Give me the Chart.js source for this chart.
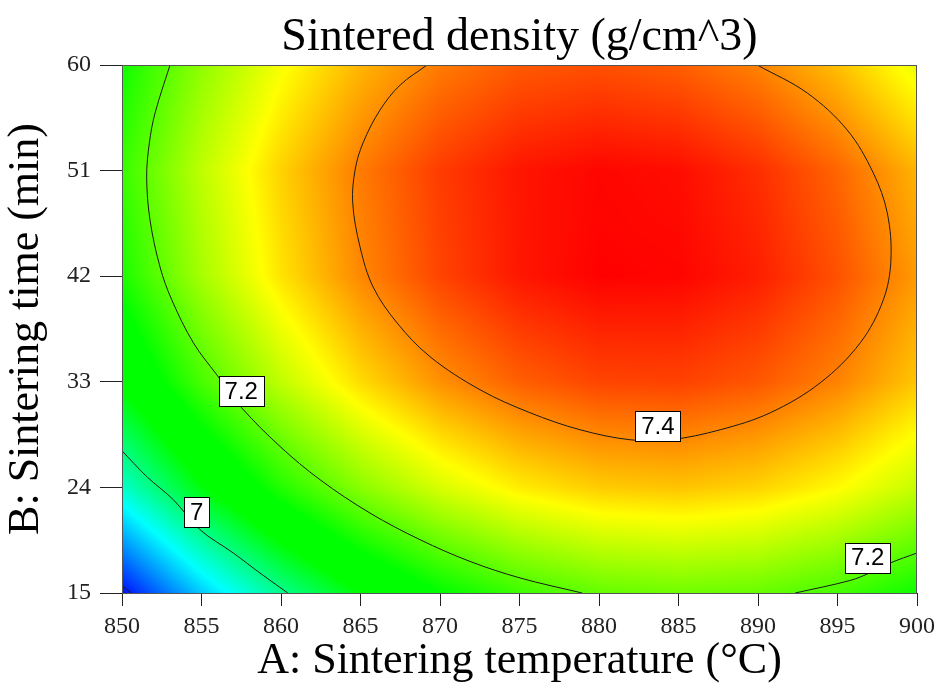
<!DOCTYPE html>
<html>
<head>
<meta charset="utf-8">
<script src="https://cdn.jsdelivr.net/npm/chart.js@4.4.1/dist/chart.umd.min.js"></script>
<style>
  html,body{margin:0;padding:0;background:#fff;}
  #wrap{width:937px;height:692px;}
</style>
</head>
<body>
<div id="wrap"><canvas id="chart" width="937" height="692"></canvas></div>
<script>
// grid of the response surface: temperature (°C) columns, time (min) rows
const temps = [850, 855, 860, 865, 870, 875, 880, 885, 890, 895, 900];
const times = [15, 24, 33, 42, 51, 60];

// sintered density (g/cm^3), one array per time row
const density15 = [6.788, 6.899, 6.992, 7.069, 7.129, 7.173, 7.200, 7.209, 7.203, 7.179, 7.139];
const density24 = [6.958, 7.064, 7.154, 7.227, 7.283, 7.323, 7.346, 7.352, 7.341, 7.313, 7.269];
const density33 = [7.078, 7.180, 7.266, 7.335, 7.388, 7.423, 7.442, 7.444, 7.429, 7.398, 7.350];
const density42 = [7.148, 7.247, 7.329, 7.394, 7.442, 7.474, 7.489, 7.487, 7.469, 7.433, 7.381];
const density51 = [7.169, 7.264, 7.342, 7.403, 7.448, 7.475, 7.486, 7.481, 7.458, 7.419, 7.363];
const density60 = [7.140, 7.231, 7.305, 7.362, 7.403, 7.427, 7.434, 7.424, 7.398, 7.355, 7.295];
const densityRows = [density15, density24, density33, density42, density51, density60];

// contour lines, [temperature, time]
const contour68 = [[850, 15.62], [850.6, 15]];
const contour70 = [[850, 27.12], [851.55, 24.93], [853.23, 22.95], [854.91, 20.39], [857.0, 18.41], [858.68, 16.7], [860.43, 15]];
const contour72left = [[853.02, 60], [852.08, 55.91], [851.72, 53.36], [851.55, 50.46], [851.76, 46.8], [852.39, 42.79],
  [853.13, 39.98], [854.49, 36.32], [855.96, 33.6], [857.53, 30.78], [859.94, 27.49], [862.46, 24.65], [865.6, 21.81],
  [868.75, 19.54], [871.89, 17.69], [875.04, 16.28], [878.94, 15]];
const contour72right = [[892.34, 15], [895.8, 16.07], [897.06, 16.73], [898.32, 17.56], [900, 18.41]];
const contour74 = [[869.19, 60], [867.5, 58.3], [866.23, 56.17], [865.16, 53.36], [864.66, 51.06], [864.51, 48.25], [864.97, 44.5],
  [865.79, 41.09], [867.3, 38.02], [869.38, 35.13], [872.52, 32.32], [875.67, 30.36], [878.82, 28.91], [881.96, 28.06],
  [884.48, 28.06], [887.62, 28.91], [890.77, 30.36], [893.91, 32.91], [896.43, 36.32], [897.88, 39.98], [898.36, 43.39],
  [898.13, 47.39], [897.25, 50.8], [895.61, 54.46], [893.1, 57.61], [889.95, 60]];
const contours = [contour68, contour70, contour72left, contour72right, contour74];

// contour labels
const labelTexts = ['7.2', '7', '7.4', '7.2'];
const labelTemps = [857.5, 854.7, 883.7, 896.9];
const labelTimes = [32.2, 21.9, 29.2, 18.0];

// colour ramp (blue -> cyan -> green -> yellow -> red)
const rampStops = [6.78, 6.93, 7.07, 7.13, 7.31, 7.49];
const rampRGB = [[0,0,255],[0,255,255],[0,255,0],[0,255,0],[255,255,0],[255,0,0]];

const serif = '"Liberation Serif", "Times New Roman", serif';
const chartTitle = 'Sintered density (g/cm^3)';

function findCell(arr, v){
  let i = 0;
  while(i < arr.length - 2 && v > arr[i+1]) i++;
  let f = (v - arr[i]) / (arr[i+1] - arr[i]);
  return [i, Math.max(0, Math.min(1, f))];
}

function densityAt(A, B){
  const [i, fx] = findCell(temps, A);
  const [j, fy] = findCell(times, B);
  const r0 = densityRows[j], r1 = densityRows[j+1];
  const a = r0[i] + (r0[i+1]-r0[i])*fx;
  const b = r1[i] + (r1[i+1]-r1[i])*fx;
  return a + (b-a)*fy;
}

function colourOf(d){
  if(d <= rampStops[0]) return rampRGB[0];
  const n = rampStops.length - 1;
  if(d >= rampStops[n]) return rampRGB[n];
  let k = 0;
  while(d > rampStops[k+1]) k++;
  const f = (d - rampStops[k]) / (rampStops[k+1] - rampStops[k]);
  const c0 = rampRGB[k], c1 = rampRGB[k+1];
  return [c0[0]+(c1[0]-c0[0])*f, c0[1]+(c1[1]-c0[1])*f, c0[2]+(c1[2]-c0[2])*f];
}

const fieldPlugin = {
  id:'field',
  beforeDatasetsDraw(chart){
    const {ctx, chartArea:a, scales:{x, y}} = chart;
    const l = Math.round(a.left), t = Math.round(a.top);
    const w = Math.round(a.right) - l, h = Math.round(a.bottom) - t;
    const img = ctx.createImageData(w, h);
    for(let j=0;j<h;j++){
      const B = y.getValueForPixel(t + j + 0.5);
      for(let i=0;i<w;i++){
        const A = x.getValueForPixel(l + i + 0.5);
        const c = colourOf(densityAt(A, B));
        const k = (j*w + i)*4;
        img.data[k] = c[0]; img.data[k+1] = c[1]; img.data[k+2] = c[2]; img.data[k+3] = 255;
      }
    }
    ctx.putImageData(img, l, t);
  }
};

const labelPlugin = {
  id:'contourLabels',
  afterDatasetsDraw(chart){
    const {ctx, scales:{x, y}} = chart;
    ctx.save();
    ctx.font = '24px "Liberation Sans", Arial, sans-serif';
    ctx.textAlign = 'center';
    ctx.textBaseline = 'middle';
    labelTexts.forEach((txt, i)=>{
      const px = x.getPixelForValue(labelTemps[i]);
      const py = y.getPixelForValue(labelTimes[i]);
      const bw = Math.round(ctx.measureText(txt).width + 12), bh = 30;
      const bx = Math.round(px - bw/2) + 0.5, by = Math.round(py - bh/2) + 0.5;
      ctx.fillStyle = '#fff';
      ctx.fillRect(bx, by, bw, bh);
      ctx.strokeStyle = '#000';
      ctx.lineWidth = 1;
      ctx.strokeRect(bx, by, bw, bh);
      ctx.fillStyle = '#000';
      ctx.fillText(txt, px, py + 1);
    });
    ctx.restore();
  },
  afterDraw(chart){
    const {ctx, chartArea:a} = chart;
    ctx.save();
    ctx.strokeStyle = '#555';
    ctx.lineWidth = 1;
    ctx.strokeRect(Math.round(a.left)+0.5, Math.round(a.top)+0.5, Math.round(a.right-a.left)-1, Math.round(a.bottom-a.top));
    // title centred over the plot area
    ctx.fillStyle = '#000';
    ctx.font = '46px ' + serif;
    ctx.textAlign = 'center';
    ctx.textBaseline = 'alphabetic';
    ctx.fillText(chartTitle, (a.left + a.right)/2, 50);
    ctx.restore();
  }
};

const datasets = contours.map(pts => ({
  data: pts.map(p => ({x:p[0], y:p[1]})),
  borderColor:'#1a1a1a',
  borderWidth:1,
  pointRadius:0,
  tension:0.35,
  fill:false
}));

new Chart(document.getElementById('chart').getContext('2d'), {
  type:'line',
  data:{datasets},
  options:{
    responsive:false,
    devicePixelRatio:1,
    animation:false,
    layout:{padding:{left:0, right:20, top:65, bottom:0}},
    plugins:{
      legend:{display:false},
      tooltip:{enabled:false},
      title:{display:false}
    },
    scales:{
      x:{
        type:'linear', min:850, max:900,
        afterBuildTicks: s => { s.ticks = temps.map(v => ({value:v})); },
        ticks:{color:'#222', padding:6, maxRotation:0, font:{family:serif, size:24}},
        grid:{drawOnChartArea:false, tickLength:13, color:'#222'},
        border:{color:'#222'},
        title:{display:true, text:'A: Sintering temperature (°C)', color:'#000',
          font:{family:serif, size:44}, padding:{top:0, bottom:4}},
        afterFit: s => { s.height = 99; s.paddingLeft = 0; s.paddingRight = 0; }
      },
      y:{
        type:'linear', min:15, max:60,
        afterBuildTicks: s => { s.ticks = times.map(v => ({value:v})); },
        ticks:{color:'#222', padding:9, font:{family:serif, size:24}},
        grid:{drawOnChartArea:false, tickLength:22, color:'#222'},
        border:{color:'#222'},
        title:{display:true, text:'B: Sintering time (min)', color:'#000',
          font:{family:serif, size:44}, padding:{top:0, bottom:0}},
        afterFit: s => { s.width = 122; s.paddingTop = 0; s.paddingBottom = 0; }
      }
    }
  },
  plugins:[fieldPlugin, labelPlugin]
});
</script>
</body>
</html>
